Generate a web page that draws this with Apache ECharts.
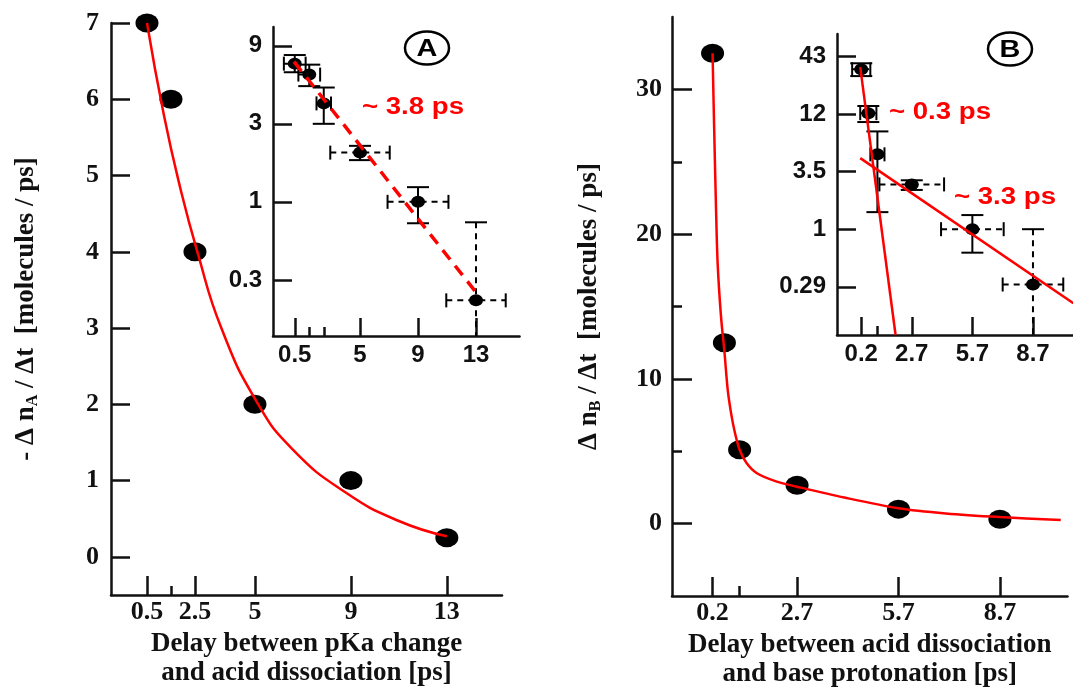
<!DOCTYPE html>
<html>
<head>
<meta charset="utf-8">
<style>
  html, body { margin: 0; padding: 0; background: #fff; }
  #chart { width: 1073px; height: 690px; }
</style>
<script src="https://cdn.jsdelivr.net/npm/echarts@6/dist/echarts.min.js"></script>
</head>
<body>
<div id="chart"></div>
<script>
// panel A: delay between pKa change and acid dissociation
const delayA = [0.5, 1.5, 2.5, 5, 9, 13];
const rateA = [7, 6, 4, 2, 1, 0.25];
const fitDelayA = [0.5, 1.2, 1.9, 2.6, 3.6, 5.1, 6.6, 8.8, 11.0, 13.0];
const fitRateA = [7.0, 5.8, 4.82, 4.0, 3.0, 2.02, 1.4, 0.84, 0.47, 0.27];
const errDelayA = [0.75, 0.75, 0.5, 2.05, 2.1, 2.05];
const errHighA = [7.9, 6.9, 5.0, 2.2, 1.23, 0.75];
const errLowA = [6.2, 5.1, 3.0, 1.8, 0.74, 0.1];
const logFitDelayA = [0.45, 13];
const logFitRateA = [7.2, 0.28];
const ticksA = [0.5, 2.5, 5, 9, 13];
const minorTicksA = [1.5];
const rateTicksA = [0, 1, 2, 3, 4, 5, 6, 7];
const insetTicksA = [0.5, 5, 9, 13];
const insetMinorTicksA = [1.5, 2.5];
const insetRateTicksA = [9, 3, 1, 1 / 3];
const insetRateLabelsA = ['9', '3', '1', '0.3'];

// panel B: delay between acid dissociation and base protonation
const delayB = [0.2, 0.55, 1.0, 2.7, 5.7, 8.7];
const rateB = [32.5, 12.5, 5.1, 2.65, 1.0, 0.3];
const fitDelayB = [0.2, 0.25, 0.3, 0.35, 0.45, 0.55, 0.65, 0.75, 0.85, 1.0, 1.2, 1.5, 2.1, 2.7, 4.1, 5.7, 7.1, 8.7, 10.5];
const fitRateB = [32.5, 27, 22, 18, 14.3, 11.9, 9.2, 7.6, 6.4, 5.1, 4.2, 3.5, 2.9, 2.55, 1.8, 1.06, 0.7, 0.45, 0.25];
const errDelayB = [0.45, 0.4, 0.35, 1.6, 1.55, 1.5];
const errHighB = [37, 14.6, 8.4, 2.9, 1.36, 1.0];
const errLowB = [28, 10.3, 1.45, 2.35, 0.6, 0.05];
const fastFitDelayB = [0.15, 1.9];
const fastFitRateB = [34, 0.1];
const slowFitDelayB = [0.15, 10.7];
const slowFitRateB = [4.7, 0.2];
const ticksB = [0.2, 2.7, 5.7, 8.7];
const minorTicksB = [1.0];
const rateTicksB = [0, 10, 20, 30];
const minorRateTicksB = [5, 15, 25];
const insetRateTicksB = [42.875, 12.25, 3.5, 1, 1 / 3.5];
const insetRateLabelsB = ['43', '12', '3.5', '1', '0.29'];

const SERIF = '"Liberation Serif", "DejaVu Serif", serif';
const SANS = '"Liberation Sans", Arial, sans-serif';
const INK = '#111';
const RED = '#ff0000';

const zip = (xs, ys) => xs.map((x, i) => [x, ys[i]]);
const zipLog = (xs, ys) => xs.map((x, i) => [x, Math.log10(ys[i])]);

function errorRows(xs, ys, dx, hi, lo) {
  return xs.map((x, i) => [x, Math.log10(ys[i]), dx[i], Math.log10(hi[i]), Math.log10(lo[i]), i === xs.length - 1 ? 1 : 0]);
}

function logLabel(values, labels) {
  return (v) => {
    const i = values.findIndex((t) => Math.abs(Math.log10(t) - v) < 1e-6);
    return i < 0 ? '' : labels[i];
  };
}

function axis(grid, position, min, max, opts) {
  const o = opts || {};
  return {
    type: 'value',
    gridIndex: grid,
    position: position,
    min: min,
    max: max,
    axisLine: { show: o.line !== false, onZero: false, lineStyle: { color: INK, width: 2.5 } },
    axisTick: {
      show: true, inside: true, length: o.tickLen || 19,
      customValues: o.ticks,
      lineStyle: { color: INK, width: 2.5 }
    },
    axisLabel: {
      show: !!o.labels,
      customValues: o.ticks,
      formatter: o.formatter,
      margin: o.margin || 8,
      color: INK,
      fontFamily: o.font || SERIF,
      fontWeight: 'bold',
      fontSize: o.fontSize || 26
    },
    splitLine: { show: false }
  };
}

function errorBars(params, api) {
  const x = api.value(0), y = api.value(1), dx = api.value(2);
  const hi = api.value(3), lo = api.value(4), dashed = api.value(5) === 1;
  const cs = params.coordSys;
  const bottom = cs.y + cs.height;
  const left = api.coord([x - dx, y]);
  const right = api.coord([x + dx, y]);
  const top = api.coord([x, hi]);
  const low = api.coord([x, lo]);
  const lowY = Math.min(low[1], bottom);
  const solid = { stroke: '#000', lineWidth: 2 };
  const dash = { stroke: '#000', lineWidth: 2, lineDash: [6, 5] };
  const seg = (x1, y1, x2, y2, s) => ({ type: 'line', shape: { x1, y1, x2, y2 }, style: s });
  const children = [
    seg(left[0], left[1], right[0], right[1], dash),
    seg(left[0], left[1] - 7, left[0], left[1] + 7, solid),
    seg(right[0], right[1] - 7, right[0], right[1] + 7, solid),
    seg(top[0], top[1], top[0], lowY, dashed ? dash : solid),
    seg(top[0] - 11, top[1], top[0] + 11, top[1], solid)
  ];
  if (low[1] < bottom) children.push(seg(low[0] - 11, lowY, low[0] + 11, lowY, solid));
  return { type: 'group', children: children };
}

function yName(before, sub, after) {
  return '{m|' + before + '}{s|' + sub + '}{m|' + after + '}';
}

const yNameStyle = {
  rich: {
    m: { fontFamily: SERIF, fontWeight: 'bold', fontSize: 27, color: INK, lineHeight: 30 },
    s: { fontFamily: SERIF, fontWeight: 'bold', fontSize: 16, color: INK, lineHeight: 14, verticalAlign: 'bottom' }
  }
};

const xNameStyle = { fontFamily: SERIF, fontWeight: 'bold', fontSize: 27, color: INK, lineHeight: 29 };

const xAxes = [
  Object.assign(axis(0, 'bottom', -1, 15.3, { ticks: ticksA, labels: true, margin: 4 }), {
    name: 'Delay between pKa change\nand acid dissociation [ps]',
    nameLocation: 'middle', nameGap: 33, nameTextStyle: xNameStyle
  }),
  axis(0, 'bottom', -1, 15.3, { ticks: minorTicksA, line: false, tickLen: 9 }),
  axis(1, 'bottom', -1, 16, { ticks: insetTicksA, labels: true, font: SANS, fontSize: 24, margin: 7, tickLen: 18 }),
  axis(1, 'bottom', -1, 16, { ticks: insetMinorTicksA, line: false, tickLen: 9 }),
  Object.assign(axis(2, 'bottom', -1, 10.7, { ticks: ticksB, labels: true, margin: 4 }), {
    name: 'Delay between acid dissociation\nand base protonation [ps]',
    nameLocation: 'middle', nameGap: 33, nameTextStyle: xNameStyle
  }),
  axis(2, 'bottom', -1, 10.7, { ticks: minorTicksB, line: false, tickLen: 10 }),
  axis(3, 'bottom', -1, 10.8, { ticks: ticksB, labels: true, font: SANS, fontSize: 24, margin: 7, tickLen: 18 }),
  axis(3, 'bottom', -1, 10.8, { ticks: minorTicksB, line: false, tickLen: 9 })
];

const yAxes = [
  Object.assign(axis(0, 'left', -0.5, 7, { ticks: rateTicksA, labels: true, margin: 12 }), {
    name: yName('- Δ n', 'A', ' / Δt  [molecules / ps]'),
    nameLocation: 'middle', nameRotate: 90, nameGap: 70, nameTextStyle: yNameStyle
  }),
  axis(1, 'left', -0.82, 1.069, {
    ticks: insetRateTicksA.map((v) => Math.log10(v)), labels: true, font: SANS, fontSize: 24, margin: 11, tickLen: 19,
    formatter: logLabel(insetRateTicksA, insetRateLabelsA)
  }),
  Object.assign(axis(2, 'left', -5, 35, { ticks: rateTicksB, labels: true, margin: 10, tickLen: 20 }), {
    name: yName('Δ n', 'B', ' / Δt  [molecules / ps]'),
    nameLocation: 'middle', nameRotate: 90, nameGap: 68, nameTextStyle: yNameStyle
  }),
  axis(2, 'left', -5, 35, { ticks: minorRateTicksB, line: false, tickLen: 10 }),
  axis(3, 'left', -1, 1.845, {
    ticks: insetRateTicksB.map((v) => Math.log10(v)), labels: true, font: SANS, fontSize: 24, margin: 11, tickLen: 19,
    formatter: logLabel(insetRateTicksB, insetRateLabelsB)
  })
];

const dotMain = { type: 'scatter', symbol: 'circle', symbolSize: [23, 19], itemStyle: { color: '#000', opacity: 1 }, z: 3 };
const dotInset = { type: 'scatter', symbol: 'circle', symbolSize: [14, 12], itemStyle: { color: '#000', opacity: 1 }, z: 3 };
const redLine = (extra) => Object.assign({
  type: 'line', showSymbol: false, symbol: 'none', z: 4,
  lineStyle: { color: RED, width: 2.5 }
}, extra);

const series = [
  Object.assign({}, dotMain, { xAxisIndex: 0, yAxisIndex: 0, data: zip(delayA, rateA) }),
  redLine({ xAxisIndex: 0, yAxisIndex: 0, smooth: 0.5, data: zip(fitDelayA, fitRateA) }),
  {
    type: 'custom', xAxisIndex: 2, yAxisIndex: 1, renderItem: errorBars, z: 2,
    encode: { x: 0, y: 1 }, data: errorRows(delayA, rateA, errDelayA, errHighA, errLowA)
  },
  Object.assign({}, dotInset, { xAxisIndex: 2, yAxisIndex: 1, data: zipLog(delayA, rateA) }),
  redLine({
    xAxisIndex: 2, yAxisIndex: 1, data: zipLog(logFitDelayA, logFitRateA),
    lineStyle: { color: RED, width: 3.5, type: [12, 8] }
  }),

  Object.assign({}, dotMain, { xAxisIndex: 4, yAxisIndex: 2, data: zip(delayB, rateB) }),
  redLine({ xAxisIndex: 4, yAxisIndex: 2, smooth: 0.3, data: zip(fitDelayB, fitRateB) }),
  {
    type: 'custom', xAxisIndex: 6, yAxisIndex: 4, renderItem: errorBars, z: 2,
    encode: { x: 0, y: 1 }, data: errorRows(delayB, rateB, errDelayB, errHighB, errLowB)
  },
  Object.assign({}, dotInset, { xAxisIndex: 6, yAxisIndex: 4, data: zipLog(delayB, rateB) }),
  redLine({ xAxisIndex: 6, yAxisIndex: 4, data: zipLog(fastFitDelayB, fastFitRateB) }),
  redLine({ xAxisIndex: 6, yAxisIndex: 4, data: zipLog(slowFitDelayB, slowFitRateB) })
];

const note = (x, y, text, color, size) => ({
  type: 'text', x: x, y: y, scaleX: 1.2, z: 10,
  style: {
    text: text, fill: color, fontFamily: SANS, fontWeight: 'bold', fontSize: size,
    align: 'center', verticalAlign: 'middle'
  }
});

const badge = (cx, cy, letter) => [
  { type: 'ellipse', shape: { cx: cx, cy: cy, rx: 22, ry: 16.5 }, style: { fill: 'none', stroke: '#000', lineWidth: 2.5 }, z: 10 },
  note(cx, cy + 1, letter, '#000', 24)
];

const chart = echarts.init(document.getElementById('chart'));
chart.setOption({
  animation: false,
  backgroundColor: '#fff',
  grid: [
    { left: 111, top: 23, width: 391, height: 572, containLabel: false, outerBoundsMode: 'none' },
    { left: 273, top: 27, width: 246.5, height: 309, containLabel: false, outerBoundsMode: 'none' },
    { left: 672, top: 17, width: 395.5, height: 579, containLabel: false, outerBoundsMode: 'none' },
    { left: 837, top: 34, width: 238.4, height: 301, containLabel: false, outerBoundsMode: 'none' }
  ],
  xAxis: xAxes,
  yAxis: yAxes,
  series: series,
  graphic: [].concat(
    badge(427, 48, 'A'),
    badge(1010, 49, 'B'),
    [
      note(413, 108, '~ 3.8 ps', RED, 23),
      note(940, 113, '~ 0.3 ps', RED, 23),
      note(1005, 198, '~ 3.3 ps', RED, 23)
    ]
  )
});
</script>
</body>
</html>
